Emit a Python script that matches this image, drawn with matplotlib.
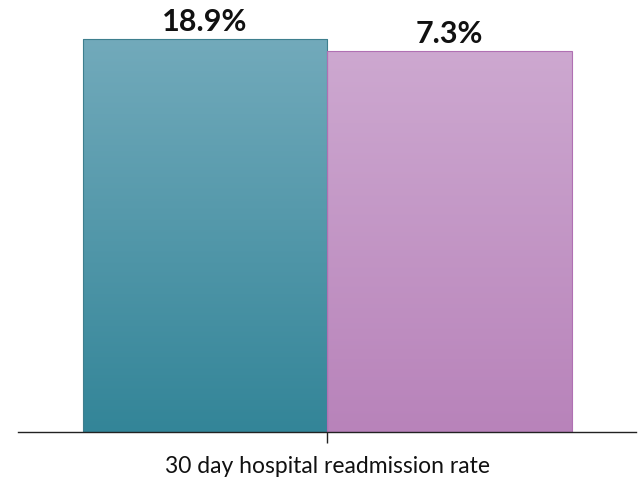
import matplotlib
matplotlib.use('Agg')
import matplotlib.pyplot as plt
import numpy as np
from matplotlib.colors import LinearSegmentedColormap

plt.rcParams['font.family'] = ['Lato', 'DejaVu Sans']

# ── Data ──
groups = ['Group A', 'Group B']
rates = [18.9, 7.3]
labels = ['18.9%', '7.3%']
category = '30 day hospital readmission rate'

# value axis does not start at zero
BASE = -361.0

# top -> bottom gradient colours, edge colour
STYLES = [
    (('#72AABB', '#338598'), '#3E7F8E'),
    (('#CDA8D0', '#B883BA'), '#B070B3'),
]

W, H = 639, 488
fig = plt.figure(figsize=(W / 100, H / 100), dpi=100)
ax = fig.add_axes([18 / W, (H - 432) / H, 618 / W, 432 / H])

px_per_unit = 393 / (rates[0] - BASE)
ylim = (BASE, BASE + 432 / px_per_unit)
xlim = (-0.765, 1.763)

xs = np.arange(len(rates))
bars = ax.bar(xs, np.array(rates) - BASE, bottom=BASE, width=1.0,
              align='center', zorder=2)

for bar, ((ctop, cbot), ec) in zip(bars, STYLES):
    bar.set_facecolor('none')
    bar.set_edgecolor(ec)
    bar.set_linewidth(0.8)
    x0, y0 = bar.get_x(), bar.get_y()
    w, h = bar.get_width(), bar.get_height()
    cmap = LinearSegmentedColormap.from_list('g', [cbot, ctop])
    grad = np.linspace(0, 1, 256).reshape(-1, 1)
    im = ax.imshow(grad, cmap=cmap, origin='lower', aspect='auto',
                   extent=(x0, x0 + w, y0, y0 + h), zorder=1)
    im.set_clip_path(bar)

for x, v, t in zip(xs, rates, labels):
    ax.annotate(t, xy=(x, v), xytext=(0, 6), textcoords='offset points',
                ha='center', va='baseline', fontsize=22, fontweight='bold',
                color='#111111')

ax.set_xlim(*xlim)
ax.set_ylim(*ylim)

for s in ['top', 'right', 'left']:
    ax.spines[s].set_visible(False)
ax.spines['bottom'].set_linewidth(1.0)
ax.spines['bottom'].set_color('#222222')
ax.set_yticks([])
ax.set_xticks([0.5])
ax.set_xticklabels([category], fontsize=16.5, color='#111111')
ax.tick_params(axis='x', length=8, width=1.0, color='#222222', pad=9)

fig.savefig('out.png', dpi=100, facecolor='white')
